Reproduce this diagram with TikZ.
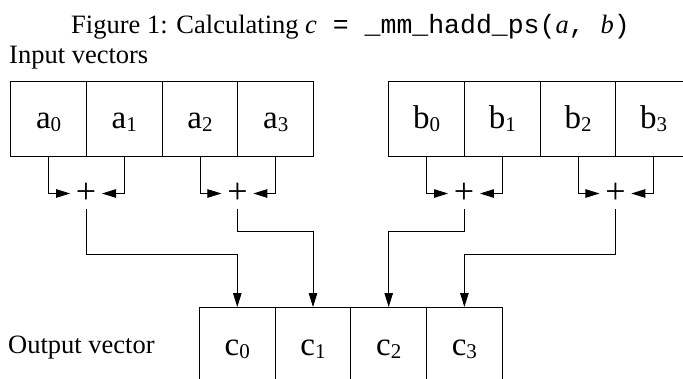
\documentclass[tikz,border=0pt]{standalone}
\usepackage{fontspec}
\setmainfont{Liberation Serif}
\setmonofont{Liberation Mono}
\usetikzlibrary{arrows.meta}
\newcommand\subs[1]{\raisebox{-3pt}{\fontsize{21}{21}\selectfont #1}}
\begin{document}
\begin{tikzpicture}[x=1pt,y=-1pt,
  cell/.style={draw, line width=0.9pt, minimum width=75.7pt, minimum height=75.3pt, inner sep=0pt, anchor=north west},
  lbl/.style={font=\fontsize{33}{33}\selectfont, inner sep=0pt, anchor=base},
  plus/.style={font=\fontsize{36}{36}\selectfont, minimum width=31.5pt, minimum height=31pt, inner sep=0pt},
  con/.style={line width=0.9pt, -{Triangle[length=14pt,width=8.5pt]}},
  txt/.style={font=\fontsize{26.5}{26.5}\selectfont, inner sep=0pt, anchor=base west}]
\useasboundingbox (0,0) rectangle (683,378);
\fill[white] (0,0) rectangle (683,378);
% title and captions
\node[txt] (title) at (71,33.3) {Figure 1: Calculating \textit{c}{\ttfamily\ =\ \_mm\_hadd\_ps(}\textit{a}{\ttfamily,\ }\textit{b}{\ttfamily)}};
\node[txt] (inp) at (9,63) {Input vectors};
\node[txt] (outp) at (8,353) {Output vector};
% input a
\node[cell] (a0) at (10.3,80.7) {};
\node[cell] (a1) at (86,80.7) {};
\node[cell] (a2) at (161.7,80.7) {};
\node[cell] (a3) at (237.4,80.7) {};
% input b
\node[cell] (b0) at (388.3,80.7) {};
\node[cell] (b1) at (464,80.7) {};
\node[cell] (b2) at (539.7,80.7) {};
\node[cell] (b3) at (615.4,80.7) {};
% output c
\node[cell] (c0) at (199,307) {};
\node[cell] (c1) at (274.7,307) {};
\node[cell] (c2) at (350.4,307) {};
\node[cell] (c3) at (426.1,307) {};
% labels
\foreach \n/\t in {a0/a\subs{0},a1/a\subs{1},a2/a\subs{2},a3/a\subs{3},b0/b\subs{0},b1/b\subs{1},b2/b\subs{2},b3/b\subs{3},c0/c\subs{0},c1/c\subs{1},c2/c\subs{2},c3/c\subs{3}}
  \node[lbl] at ([yshift=-10pt]\n.center) {\t};
% plus nodes
\node[plus] (pA) at (86.1,193.5) {+};
\node[plus] (pB) at (237.4,193.5) {+};
\node[plus] (pC) at (464,193.5) {+};
\node[plus] (pD) at (615.4,193.5) {+};
% connectors to plus
\draw[con] (a0.south) |- (pA.west);
\draw[con] (a1.south) |- (pA.east);
\draw[con] (a2.south) |- (pB.west);
\draw[con] (a3.south) |- (pB.east);
\draw[con] (b0.south) |- (pC.west);
\draw[con] (b1.south) |- (pC.east);
\draw[con] (b2.south) |- (pD.west);
\draw[con] (b3.south) |- (pD.east);
% connectors to outputs
\draw[con] (pA.south) -- ++(0,45) -| (c0.north);
\draw[con] (pB.south) -- ++(0,22.5) -| (c1.north);
\draw[con] (pC.south) -- ++(0,22.5) -| (c2.north);
\draw[con] (pD.south) -- ++(0,45) -| (c3.north);
\end{tikzpicture}
\end{document}
